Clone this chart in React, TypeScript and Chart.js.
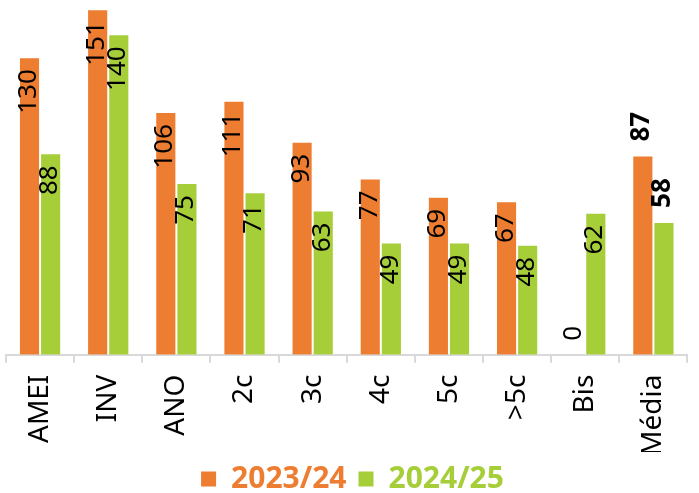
import React, { useEffect, useRef } from 'react';
import Chart from 'chart.js/auto';

const categories = ['AMEI', 'INV', 'ANO', '2c', '3c', '4c', '5c', '>5c', 'Bis', 'Média'];
const serie2324 = [130, 151, 106, 111, 93, 77, 69, 67, 0, 87];
const serie2425 = [88, 140, 75, 71, 63, 49, 49, 48, 62, 58];
const seriesNames = ['2023/24', '2024/25'];

const ORANGE = '#ED7D31';
const GREEN = '#A6CE39';
const FONT = '"Noto Sans", sans-serif';

// rotated value labels: inside the bar top, or above it for the average / zero
const valueLabels = {
    id: 'valueLabels',
    afterDatasetsDraw(chart: any) {
        const ctx = chart.ctx;
        chart.data.datasets.forEach((ds: any, di: number) => {
            const meta = chart.getDatasetMeta(di);
            meta.data.forEach((bar: any, i: number) => {
                const v = ds.data[i];
                const isAvg = i === categories.length - 1;
                const outside = isAvg || v === 0;
                ctx.save();
                ctx.fillStyle = '#000';
                ctx.font = (isAvg ? 'bold ' : '') + '26px ' + FONT;
                ctx.textBaseline = 'middle';
                if (outside) {
                    ctx.translate(bar.x - 1, bar.y - 14);
                    ctx.rotate(-Math.PI / 2);
                    ctx.textAlign = 'left';
                } else {
                    ctx.translate(bar.x - 1, bar.y + 12);
                    ctx.rotate(-Math.PI / 2);
                    ctx.textAlign = 'right';
                }
                ctx.fillText(String(v), 0, 0);
                ctx.restore();
            });
        });
    }
};

const App: React.FC = () => {
    const chartRef = useRef<HTMLCanvasElement>(null);
    const chartInstance = useRef<Chart | null>(null);

    useEffect(() => {
        document.body.style.margin = '0';
        if (!chartRef.current) return;
        if (chartInstance.current) chartInstance.current.destroy();

        chartInstance.current = new Chart(chartRef.current, {
            type: 'bar',
            data: {
                labels: categories,
                datasets: [
                    {
                        label: seriesNames[0],
                        data: serie2324,
                        backgroundColor: ORANGE,
                        borderColor: 'rgba(255,255,255,0.4)',
                        borderWidth: 1,
                        barPercentage: 1,
                        categoryPercentage: 0.62
                    },
                    {
                        label: seriesNames[1],
                        data: serie2425,
                        backgroundColor: GREEN,
                        borderColor: 'rgba(255,255,255,0.4)',
                        borderWidth: 1,
                        barPercentage: 1,
                        categoryPercentage: 0.62
                    }
                ]
            },
            options: {
                responsive: false,
                animation: false,
                layout: { padding: { left: 6, right: 0, top: 0, bottom: -11 } },
                scales: {
                    x: {
                        grid: {
                            drawOnChartArea: false,
                            drawTicks: true,
                            tickLength: 8,
                            color: '#d9d9d9',
                            lineWidth: 2,
                            offset: true
                        },
                        border: { color: '#d9d9d9', width: 2 },
                        ticks: {
                            color: '#000',
                            font: { family: FONT, size: 28 },
                            minRotation: 90,
                            maxRotation: 90,
                            padding: 12,
                            autoSkip: false
                        },
                        afterFit: (scale: any) => {
                            scale.height -= 16;
                        }
                    },
                    y: {
                        display: false,
                        min: 0,
                        max: 155
                    }
                },
                plugins: {
                    tooltip: { enabled: false },
                    legend: {
                        position: 'bottom',
                        labels: {
                            boxWidth: 15,
                            boxHeight: 15,
                            padding: 12,
                            font: { family: FONT, size: 30, weight: 'bold' },
                            generateLabels: (chart: any) =>
                                Chart.defaults.plugins.legend.labels
                                    .generateLabels(chart)
                                    .map((item: any, idx: number) => ({
                                        ...item,
                                        lineWidth: 0,
                                        fontColor: idx === 0 ? ORANGE : GREEN
                                    }))
                        }
                    }
                }
            },
            plugins: [valueLabels]
        });

        return () => {
            if (chartInstance.current) {
                chartInstance.current.destroy();
                chartInstance.current = null;
            }
        };
    }, []);

    return <canvas ref={chartRef} width={699} height={493}></canvas>;
};

export default App;
